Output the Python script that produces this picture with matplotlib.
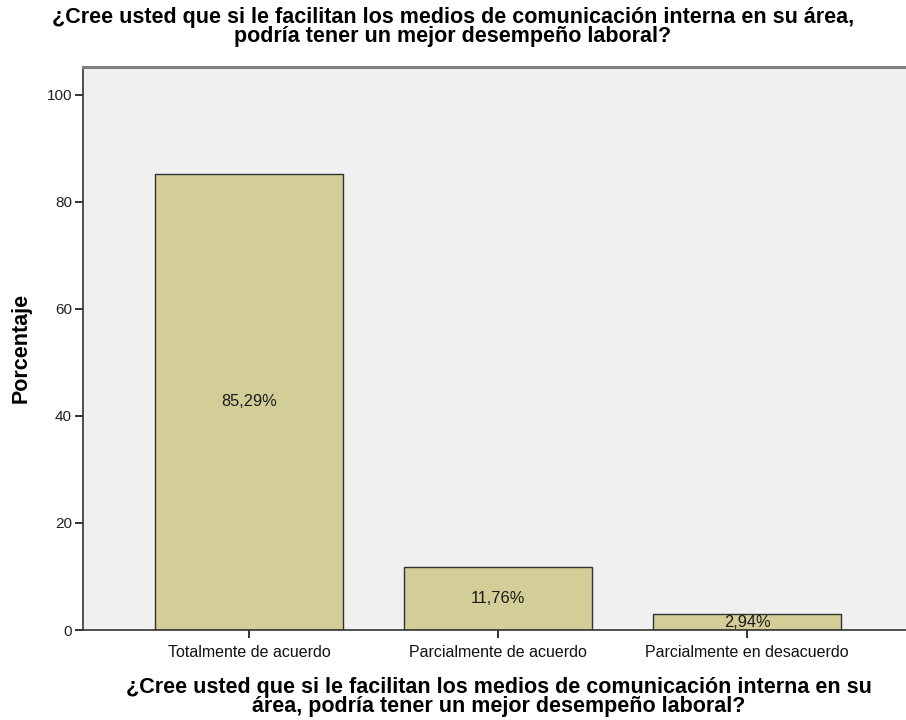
import matplotlib
matplotlib.use("Agg")
import matplotlib.pyplot as plt

categories = ["Totalmente de acuerdo", "Parcialmente de acuerdo", "Parcialmente en desacuerdo"]
values = [85.29, 11.76, 2.94]
labels = ["85,29%", "11,76%", "2,94%"]
yticks = [0, 20, 40, 60, 80, 100]
title = "¿Cree usted que si le facilitan los medios de comunicación interna en su área,\npodría tener un mejor desempeño laboral?"
xlabel = "¿Cree usted que si le facilitan los medios de comunicación interna en su\nárea, podría tener un mejor desempeño laboral?"
ylabel = "Porcentaje"

plt.rcParams['font.family'] = ['Liberation Sans', 'DejaVu Sans']

fig = plt.figure(figsize=(9.06, 7.2), dpi=100)
W, H = 906, 720
left, right, top, bottom = 83, 906, 67, 630
ax = fig.add_axes([left / W, 1 - bottom / H, (right - left) / W, (bottom - top) / H])
ax.set_facecolor('#f0f0f0')

x = list(range(len(categories)))
bars = ax.bar(x, values, width=0.755, color='#d3ce98', edgecolor='#333333', linewidth=1.0, zorder=2)
for xi, v, lab in zip(x, values, labels):
    ax.text(xi, v / 2, lab, ha='center', va='center', fontsize=11.8, color='#1a1a1a', zorder=3)

ax.set_xlim(-0.667, 2.638)
ax.set_ylim(0, 105.2)
ax.set_yticks(yticks)
ax.set_yticklabels([str(t) for t in yticks], fontsize=11, color='#222222')
ax.set_xticks(x)
ax.set_xticklabels(categories, fontsize=11.5, color='#111111')
ax.tick_params(axis='both', direction='out', length=6, width=1.4, color='#333333', pad=2)
ax.tick_params(axis='x', pad=5)

ax.spines['right'].set_visible(False)
ax.spines['top'].set_color('#808080')
ax.spines['top'].set_linewidth(2.2)
ax.spines['left'].set_color('#333333')
ax.spines['bottom'].set_color('#333333')
ax.spines['left'].set_linewidth(1.2)
ax.spines['bottom'].set_linewidth(1.2)

fig.text(453 / W, 1 - 27 / H, title, ha='center', va='center', fontsize=15.5, fontweight='bold', linespacing=0.9)
fig.text(499 / W, 1 - 697 / H, xlabel, ha='center', va='center', fontsize=15.5, fontweight='bold', linespacing=0.9)
fig.text(21 / W, 1 - 348 / H, ylabel, ha='center', va='center', rotation=90, fontsize=15.5, fontweight='bold')

fig.savefig('out.png', dpi=100)
